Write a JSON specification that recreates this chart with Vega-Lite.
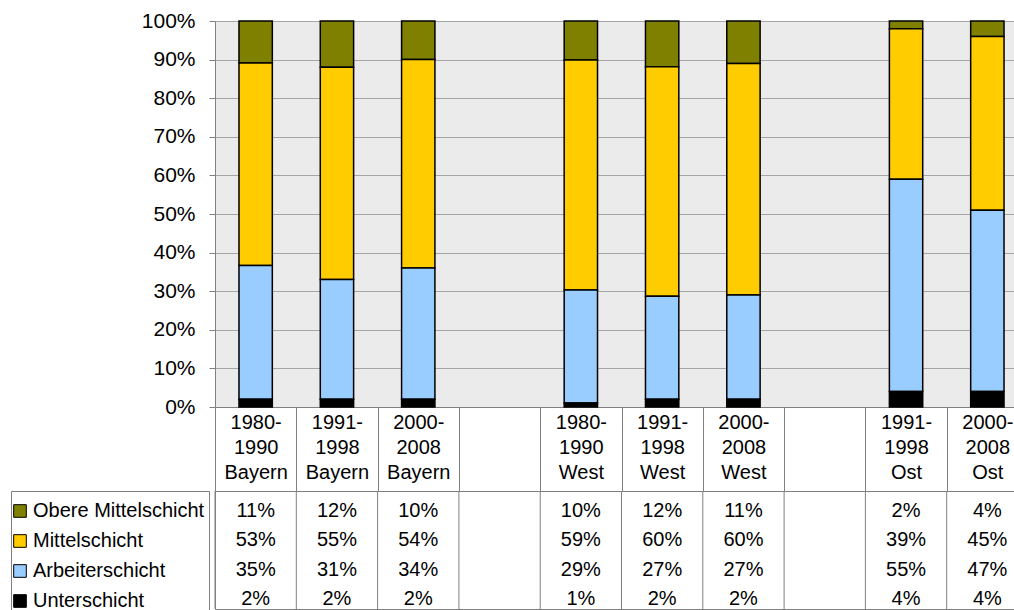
{
  "$schema": "https://vega.github.io/schema/vega-lite/v6.json",
  "background": "white",
  "padding": {"left": 10, "top": 10, "right": 0, "bottom": 0},
  "config": {
    "font": "Liberation Sans",
    "view": {"stroke": null},
    "axis": {"labelColor": "black", "labelFontSize": 20, "labelFont": "Liberation Sans"}
  },
  "datasets": {
    "shares": [
      {"col": "1980-|1990|Bayern", "schicht": "Obere Mittelschicht", "pct": 11},
      {"col": "1980-|1990|Bayern", "schicht": "Mittelschicht", "pct": 53},
      {"col": "1980-|1990|Bayern", "schicht": "Arbeiterschicht", "pct": 35},
      {"col": "1980-|1990|Bayern", "schicht": "Unterschicht", "pct": 2},
      {"col": "1991-|1998|Bayern", "schicht": "Obere Mittelschicht", "pct": 12},
      {"col": "1991-|1998|Bayern", "schicht": "Mittelschicht", "pct": 55},
      {"col": "1991-|1998|Bayern", "schicht": "Arbeiterschicht", "pct": 31},
      {"col": "1991-|1998|Bayern", "schicht": "Unterschicht", "pct": 2},
      {"col": "2000-|2008|Bayern", "schicht": "Obere Mittelschicht", "pct": 10},
      {"col": "2000-|2008|Bayern", "schicht": "Mittelschicht", "pct": 54},
      {"col": "2000-|2008|Bayern", "schicht": "Arbeiterschicht", "pct": 34},
      {"col": "2000-|2008|Bayern", "schicht": "Unterschicht", "pct": 2},
      {"col": "1980-|1990|West", "schicht": "Obere Mittelschicht", "pct": 10},
      {"col": "1980-|1990|West", "schicht": "Mittelschicht", "pct": 59},
      {"col": "1980-|1990|West", "schicht": "Arbeiterschicht", "pct": 29},
      {"col": "1980-|1990|West", "schicht": "Unterschicht", "pct": 1},
      {"col": "1991-|1998|West", "schicht": "Obere Mittelschicht", "pct": 12},
      {"col": "1991-|1998|West", "schicht": "Mittelschicht", "pct": 60},
      {"col": "1991-|1998|West", "schicht": "Arbeiterschicht", "pct": 27},
      {"col": "1991-|1998|West", "schicht": "Unterschicht", "pct": 2},
      {"col": "2000-|2008|West", "schicht": "Obere Mittelschicht", "pct": 11},
      {"col": "2000-|2008|West", "schicht": "Mittelschicht", "pct": 60},
      {"col": "2000-|2008|West", "schicht": "Arbeiterschicht", "pct": 27},
      {"col": "2000-|2008|West", "schicht": "Unterschicht", "pct": 2},
      {"col": "1991-|1998|Ost", "schicht": "Obere Mittelschicht", "pct": 2},
      {"col": "1991-|1998|Ost", "schicht": "Mittelschicht", "pct": 39},
      {"col": "1991-|1998|Ost", "schicht": "Arbeiterschicht", "pct": 55},
      {"col": "1991-|1998|Ost", "schicht": "Unterschicht", "pct": 4},
      {"col": "2000-|2008|Ost", "schicht": "Obere Mittelschicht", "pct": 4},
      {"col": "2000-|2008|Ost", "schicht": "Mittelschicht", "pct": 45},
      {"col": "2000-|2008|Ost", "schicht": "Arbeiterschicht", "pct": 47},
      {"col": "2000-|2008|Ost", "schicht": "Unterschicht", "pct": 4}
    ],
    "cols": [
      {"col": "1980-|1990|Bayern"}, {"col": "1991-|1998|Bayern"}, {"col": "2000-|2008|Bayern"}, {"col": "gap1"},
      {"col": "1980-|1990|West"}, {"col": "1991-|1998|West"}, {"col": "2000-|2008|West"}, {"col": "gap2"},
      {"col": "1991-|1998|Ost"}, {"col": "2000-|2008|Ost"}
    ]
  },
  "spacing": 84,
  "bounds": "flush",
  "resolve": {"legend": {"color": "independent"}, "scale": {"color": "independent"}},
  "vconcat": [
    {
      "width": 813,
      "height": 386,
      "view": {"fill": "#ebebeb", "stroke": null},
      "data": {"name": "shares"},
      "transform": [
        {"calculate": "indexof(['Unterschicht','Arbeiterschicht','Mittelschicht','Obere Mittelschicht'], datum.schicht)", "as": "ord"}
      ],
      "mark": {"type": "bar", "width": {"band": 0.41}, "stroke": "black", "strokeWidth": 1.5},
      "encoding": {
        "x": {
          "field": "col", "type": "nominal",
          "scale": {"domain": ["1980-|1990|Bayern", "1991-|1998|Bayern", "2000-|2008|Bayern", "gap1", "1980-|1990|West", "1991-|1998|West", "2000-|2008|West", "gap2", "1991-|1998|Ost", "2000-|2008|Ost"], "paddingInner": 0, "paddingOuter": 0},
          "axis": {
            "title": null, "tickBand": "extent", "tickSize": 84, "tickColor": "#808080", "domainColor": "#808080",
            "labelExpr": "indexof(datum.label, '|') < 0 ? '' : split(datum.label, '|')",
            "labelAngle": 0, "labelBaseline": "top", "labelPadding": -79, "labelLineHeight": 25,
            "labelOverlap": false, "labelBound": false, "labelFlush": false,
            "minExtent": 84, "maxExtent": 84
          }
        },
        "y": {
          "field": "pct", "type": "quantitative", "stack": "normalize",
          "scale": {"domain": [0, 1]},
          "axis": {
            "title": null, "values": [0, 0.1, 0.2, 0.3, 0.4, 0.5, 0.6, 0.7, 0.8, 0.9, 1], "format": ".0%",
            "labelFontSize": 21, "tickSize": 6, "tickColor": "#808080", "labelPadding": 14, "domainColor": "#808080",
            "grid": true, "gridColor": "#a6a6a6"
          }
        },
        "color": {
          "field": "schicht", "type": "nominal",
          "scale": {"domain": ["Obere Mittelschicht", "Mittelschicht", "Arbeiterschicht", "Unterschicht"], "range": ["#808000", "#ffcc00", "#99ccff", "#000000"]},
          "legend": {
            "orient": "none", "legendX": -204, "legendY": 470, "title": " ", "titleFontSize": 5, "titlePadding": 1,
            "symbolType": "square", "symbolSize": 160, "symbolStrokeColor": "black", "symbolStrokeWidth": 1, "symbolOffset": -5,
            "labelFontSize": 20, "labelColor": "black", "labelFont": "Liberation Sans", "labelLimit": 300,
            "strokeColor": "#808080", "padding": 4, "rowPadding": 10, "labelOffset": 3
          }
        },
        "order": {"field": "ord", "type": "quantitative"}
      }
    },
    {
      "width": 813,
      "height": 118,
      "view": {"stroke": "#808080"},
      "layer": [
        {
          "data": {"name": "cols"},
          "mark": {"type": "rule", "color": "#808080"},
          "encoding": {
            "x": {
              "field": "col", "type": "nominal", "bandPosition": 0,
              "scale": {"domain": ["1980-|1990|Bayern", "1991-|1998|Bayern", "2000-|2008|Bayern", "gap1", "1980-|1990|West", "1991-|1998|West", "2000-|2008|West", "gap2", "1991-|1998|Ost", "2000-|2008|Ost"], "paddingInner": 0, "paddingOuter": 0},
              "axis": null
            }
          }
        },
        {
          "data": {"name": "shares"},
          "transform": [{"calculate": "datum.pct + '%'", "as": "label"}],
          "mark": {"type": "text", "fontSize": 20, "color": "black", "dy": 5, "font": "Liberation Sans"},
          "encoding": {
            "x": {"field": "col", "type": "nominal"},
            "y": {"field": "schicht", "type": "nominal", "scale": {"domain": ["Obere Mittelschicht", "Mittelschicht", "Arbeiterschicht", "Unterschicht"]}, "axis": null},
            "text": {"field": "label"}
          }
        }
      ]
    }
  ]
}
